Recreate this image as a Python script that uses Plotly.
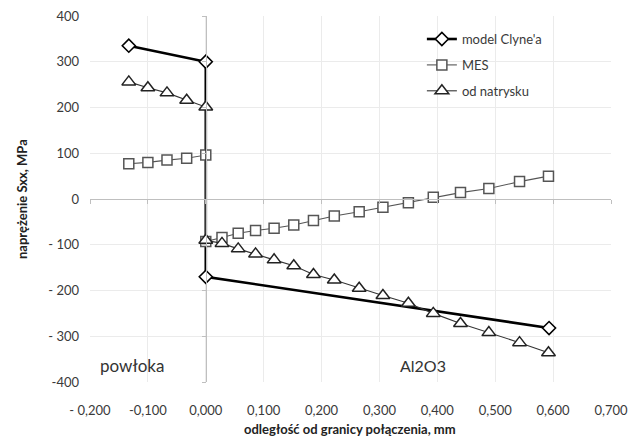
import plotly.graph_objects as go

# ---- data ----
clyne_x = [-0.133, 0.0, 0.0, 0.593]
clyne_y = [335, 300, -170, -282]

coat_x = [-0.133, -0.100, -0.067, -0.033, 0.0]
subst_x = [0.0, 0.028, 0.056, 0.086, 0.118, 0.152, 0.186, 0.222, 0.265,
           0.306, 0.350, 0.393, 0.440, 0.489, 0.542, 0.592]

mes_coat = [77, 80, 85, 89, 96]
mes_subst = [-93, -84, -75, -69, -64, -57, -47, -37, -28, -18, -8, 4, 14, 23, 38, 50]

spray_coat = [256, 243, 232, 216, 201]
spray_subst = [-90, -97, -109, -120, -133, -146, -165, -177, -195, -211,
               -228, -250, -272, -292, -314, -336]

x_tickvals = [-0.2, -0.1, 0.0, 0.1, 0.2, 0.3, 0.4, 0.5, 0.6, 0.7]
x_ticktext = ["- 0,200", "-0,100", "0,000", "0,100", "0,200", "0,300",
              "0,400", "0,500", "0,600", "0,700"]
y_tickvals = [-400, -300, -200, -100, 0, 100, 200, 300, 400]
y_ticktext = ["-400", "- 300", "- 200", "- 100", "0", "100", "200", "300", "400"]

series_names = ["model Clyne'a", "MES", "od natrysku"]
x_title = "odległość od granicy połączenia, mm"
y_title = "naprężenie Sxx, MPa"
region_labels = ["powłoka", "Al2O3"]

FONT = "Lato, 'Open Sans', sans-serif"
TXT = "#3a3a3a"

fig = go.Figure()

fig.add_trace(go.Scatter(
    x=clyne_x, y=clyne_y, name=series_names[0], mode="lines+markers",
    legendgroup="a",
    line=dict(color="black", width=2.6),
    marker=dict(symbol="diamond", size=10, color="white",
                line=dict(color="black", width=1.6)),
))
fig.add_trace(go.Scatter(
    x=coat_x + subst_x, y=mes_coat + mes_subst, name=series_names[1],
    mode="lines+markers", legendgroup="b",
    line=dict(color="#555555", width=1.1),
    marker=dict(symbol="square", size=10, color="white",
                line=dict(color="#555555", width=1.5)),
))
fig.add_trace(go.Scatter(
    x=coat_x + subst_x, y=spray_coat + spray_subst, name=series_names[2],
    mode="lines+markers", legendgroup="c",
    line=dict(color="#333333", width=1.1),
    marker=dict(symbol="triangle-up", size=12, color="white",
                line=dict(color="#222222", width=1.5)),
))

# axis lines crossing at zero
fig.add_trace(go.Scatter(x=[None], y=[None], xaxis="x2", yaxis="y", showlegend=False))
fig.add_trace(go.Scatter(x=[None], y=[None], xaxis="x", yaxis="y2", showlegend=False))

grid = "#ebebeb"
fig.update_layout(
    width=640, height=441,
    margin=dict(l=90, r=29, t=16, b=59),
    paper_bgcolor="white", plot_bgcolor="white",
    font=dict(family=FONT, size=12, color=TXT),
    xaxis=dict(range=[-0.2, 0.7], tickvals=x_tickvals, ticktext=x_ticktext,
               showgrid=True, gridcolor=grid, gridwidth=1, zeroline=False,
               showline=False, ticks="", ticklabelstandoff=19, automargin=False,
               tickfont=dict(size=13, color=TXT)),
    yaxis=dict(range=[-400, 400], tickvals=y_tickvals, ticktext=y_ticktext,
               showgrid=True, gridcolor=grid, gridwidth=1, zeroline=False,
               showline=False, ticks="", ticklabelstandoff=10, automargin=False,
               tickfont=dict(size=13, color=TXT)),
    xaxis2=dict(range=[-0.2, 0.7], overlaying="x", anchor="free", position=0.5,
                tickvals=x_tickvals, showticklabels=False, showgrid=False,
                zeroline=False, showline=True, linecolor="#bfbfbf", linewidth=1,
                ticks="outside", ticklen=4, tickcolor="#bfbfbf"),
    yaxis2=dict(range=[-400, 400], overlaying="y", anchor="free",
                position=2 / 9, tickvals=y_tickvals, showticklabels=False,
                showgrid=False, zeroline=False, showline=True,
                linecolor="#bfbfbf", linewidth=1, ticks="outside", ticklen=4,
                tickcolor="#bfbfbf"),
    legend=dict(x=0.637, y=0.978, xanchor="left", yanchor="top",
                bgcolor="rgba(0,0,0,0)", font=dict(size=13, color=TXT),
                tracegroupgap=6, itemwidth=30),
    showlegend=True,
)

fig.add_annotation(xref="paper", yref="paper", x=(350 - 90) / 521,
                   y=(382 - 429) / 366, text="<b>" + x_title + "</b>",
                   showarrow=False, xanchor="center", yanchor="middle",
                   font=dict(size=13, color="#222222"))
fig.add_annotation(xref="paper", yref="paper", x=(22 - 90) / 521,
                   y=0.5, text="<b>" + y_title + "</b>", textangle=-90,
                   showarrow=False, xanchor="center", yanchor="middle",
                   font=dict(size=13, color="#222222"))

fig.add_annotation(x=-0.186, y=-364, text=region_labels[0], showarrow=False,
                   xanchor="left", font=dict(size=17, color="#333333"))
fig.add_annotation(x=0.375, y=-364, text=region_labels[1], showarrow=False,
                   xanchor="center", font=dict(size=16, color="#333333"))

fig.write_html("out.html",
               config={"displayModeBar": False},
               post_script="document.body.style.margin='0px';")
